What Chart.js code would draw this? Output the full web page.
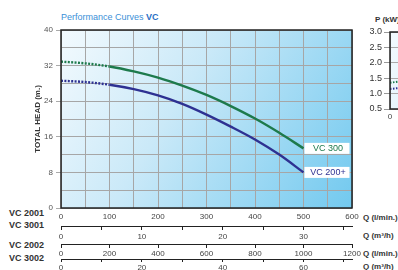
<!DOCTYPE html>
<html>
<head>
<meta charset="utf-8">
<script src="https://cdn.jsdelivr.net/npm/chart.js@4/dist/chart.umd.min.js"></script>
<style>
  body { margin:0; width:398px; height:270px; overflow:hidden; position:relative; background:#fff;
         font-family:"Liberation Sans", Arial, sans-serif; }
  canvas { position:absolute; }
  .lbl { position:absolute; white-space:nowrap; font-size:9px; line-height:10px; }
  .side { font-weight:bold; color:#333; }
  .q { font-weight:bold; color:#333; font-size:8px; }
</style>
</head>
<body>
<div class="lbl" style="left:61px;top:12px;color:#3b8fd8;">Performance Curves <b style="color:#2a6fc4">VC</b></div>
<div class="lbl side" style="left:9px;top:208px;">VC 2001</div>
<div class="lbl side" style="left:9px;top:220px;">VC 3001</div>
<div class="lbl side" style="left:9px;top:240px;">VC 2002</div>
<div class="lbl side" style="left:9px;top:253px;">VC 3002</div>
<div class="lbl q" style="left:363px;top:213px;">Q (l/min.)</div>
<div class="lbl q" style="left:363px;top:231px;">Q (m³/h)</div>
<div class="lbl q" style="left:363px;top:249px;">Q (l/min.)</div>
<div class="lbl q" style="left:363px;top:262px;">Q (m³/h)</div>
<div class="lbl side" style="left:375px;top:15px;font-size:8px;">P (kW)</div>
<canvas id="pchart" width="300" height="130" style="left:340px;top:0"></canvas>
<canvas id="chart" width="398" height="270" style="left:0;top:0"></canvas>
<script>
// --- data ---
const flowLpm = [0, 50, 100, 150, 200, 250, 300, 350, 400, 450, 500];
const headVC300 = [32.9, 32.5, 31.8, 30.7, 29.3, 27.5, 25.4, 22.9, 20.1, 16.9, 13.4];
const headVC200 = [28.6, 28.3, 27.7, 26.7, 25.3, 23.4, 21.0, 18.3, 15.4, 12.0, 8.0];
const seriesNames = ['VC 300', 'VC 200+'];
const seriesColors = ['#1d7a4c', '#2e3192'];
const dottedUpTo = 100; // curve is dotted below this flow
// power chart (cut off at the right edge)
const powerFlow = [0, 50, 100];
const powerVC300 = [1.35, 1.45, 1.55];
const powerVC200 = [1.15, 1.22, 1.3];

const pts = (xs, ys) => xs.map((x, i) => ({ x, y: ys[i] }));
const tickFont = { family: 'Liberation Sans', size: 8 };

function bgPlugin(stops) {
  return {
    id: 'bg',
    beforeDraw(c) {
      const a = c.chartArea, g = c.ctx;
      const gr = g.createLinearGradient(a.left, a.top, a.right, a.bottom);
      stops.forEach(s => gr.addColorStop(s[0], s[1]));
      g.save(); g.fillStyle = gr; g.fillRect(a.left, a.top, a.right - a.left, a.bottom - a.top); g.restore();
    },
    afterDatasetsDraw(c) {
      const a = c.chartArea, g = c.ctx;
      g.save(); g.strokeStyle = '#222'; g.lineWidth = 1.5;
      g.strokeRect(a.left, a.top, a.right - a.left, a.bottom - a.top); g.restore();
    }
  };
}

const endLabels = {
  id: 'endLabels',
  afterDraw(c) {
    const g = c.ctx;
    g.save();
    g.font = '9px "Liberation Sans"';
    g.textBaseline = 'middle';
    c.data.datasets.forEach((ds, i) => {
      const p = c.getDatasetMeta(i).data.at(-1);
      const w = 45, h = 11, x = p.x + 1, y = p.y - h / 2;
      g.fillStyle = '#fff'; g.fillRect(x, y, w, h);
      g.fillStyle = ds.borderColor;
      g.textAlign = 'center';
      g.fillText(ds.label, x + w / 2 + 1, p.y + 0.5);
    });
    g.restore();
  }
};

const dash = ctx => ctx.p1.parsed.x <= dottedUpTo ? [2, 1.4] : undefined;
const fixH = h => s => { s.height = h; };
const bgStops = [[0, '#f3fafe'], [0.4, '#cae9f8'], [1, '#72c9ef']];

new Chart(document.getElementById('chart'), {
  type: 'line',
  data: {
    datasets: [
      { label: seriesNames[0], data: pts(flowLpm, headVC300), borderColor: seriesColors[0] },
      { label: seriesNames[1], data: pts(flowLpm, headVC200), borderColor: seriesColors[1] }
    ].map(d => Object.assign(d, {
      borderWidth: 2.4, pointRadius: 0, tension: 0.4, cubicInterpolationMode: 'monotone',
      segment: { borderDash: dash }
    }))
  },
  options: {
    responsive: false, devicePixelRatio: 1, animation: false,
    layout: { padding: { top: 30, right: 46, left: 0, bottom: 0 } },
    plugins: { legend: { display: false }, tooltip: { enabled: false } },
    scales: {
      y: {
        min: 0, max: 40,
        afterFit: s => { s.width = 61; },
        ticks: { stepSize: 4, padding: 3, color: '#555', font: tickFont,
                 callback: v => v % 8 === 0 ? v : '' },
        grid: { color: '#a6a6a6', tickLength: 5,
                tickColor: c => c.tick && c.tick.value % 8 === 0 ? '#aaa' : 'rgba(0,0,0,0)' },
        border: { display: false },
        title: { display: true, text: 'TOTAL HEAD (m.)', color: '#333',
                 font: { family: 'Liberation Sans', size: 8, weight: 'bold' }, padding: { top: 33, bottom: 0 } }
      },
      x: {
        type: 'linear', position: 'bottom', weight: 1, min: 0, max: 600,
        afterFit: fixH(18),
        ticks: { stepSize: 50, autoSkip: false, maxRotation: 0, padding: 4, color: '#444', font: tickFont,
                 callback: v => v % 100 === 0 ? String(v) : '' },
        grid: { color: '#a6a6a6', drawTicks: false },
        border: { display: false }
      },
      x2: {
        type: 'linear', position: 'bottom', weight: 2, min: 0, max: 36,
        afterFit: fixH(18),
        ticks: { stepSize: 5, includeBounds: false, autoSkip: false, maxRotation: 0, padding: 2,
                 color: '#444', font: tickFont, callback: v => v % 10 === 0 ? String(v) : '' },
        grid: { drawOnChartArea: false, tickLength: 4, tickColor: '#222' },
        border: { color: '#222', width: 1 }
      },
      x3: {
        type: 'linear', position: 'bottom', weight: 3, min: 0, max: 1200,
        afterFit: fixH(15),
        ticks: { stepSize: 200, autoSkip: false, maxRotation: 0, padding: 1, color: '#444', font: tickFont,
                 callback: v => String(v) },
        grid: { drawOnChartArea: false, tickLength: 4, tickColor: '#222' },
        border: { color: '#222', width: 1 }
      },
      x4: {
        type: 'linear', position: 'bottom', weight: 4, min: 0, max: 72,
        afterFit: fixH(11),
        ticks: { stepSize: 10, includeBounds: false, autoSkip: false, maxRotation: 0, padding: 1,
                 color: '#444', font: tickFont, callback: v => v % 20 === 0 ? String(v) : '' },
        grid: { drawOnChartArea: false, tickLength: 3, tickColor: '#222' },
        border: { color: '#222', width: 1 }
      }
    }
  },
  plugins: [bgPlugin(bgStops), endLabels]
});

new Chart(document.getElementById('pchart'), {
  type: 'line',
  data: {
    datasets: [
      { data: pts(powerFlow, powerVC300), borderColor: seriesColors[0] },
      { data: pts(powerFlow, powerVC200), borderColor: seriesColors[1] }
    ].map(d => Object.assign(d, { borderWidth: 2, pointRadius: 0, borderDash: [1.5, 1.5] }))
  },
  options: {
    responsive: false, devicePixelRatio: 1, animation: false,
    layout: { padding: { top: 32, right: 0, left: 0, bottom: 0 } },
    plugins: { legend: { display: false }, tooltip: { enabled: false } },
    scales: {
      y: {
        min: 0.5, max: 3.0,
        afterFit: s => { s.width = 50; },
        ticks: { stepSize: 0.25, padding: 2, color: '#333', font: { family: 'Liberation Sans', size: 9 },
                 callback: v => Math.abs(v * 2 - Math.round(v * 2)) < 1e-6 ? v.toFixed(1) : '' },
        grid: { color: '#aaa', tickLength: 6,
                tickColor: c => c.tick && Math.abs(c.tick.value * 2 - Math.round(c.tick.value * 2)) < 1e-6 ? '#999' : 'rgba(0,0,0,0)' },
        border: { display: false }
      },
      x: {
        type: 'linear', min: 0, max: 600,
        afterFit: fixH(21),
        ticks: { stepSize: 100, padding: 3, color: '#444', font: tickFont },
        grid: { color: '#aaa', drawTicks: false },
        border: { display: false }
      }
    }
  },
  plugins: [bgPlugin(bgStops)]
});
</script>
</body>
</html>
